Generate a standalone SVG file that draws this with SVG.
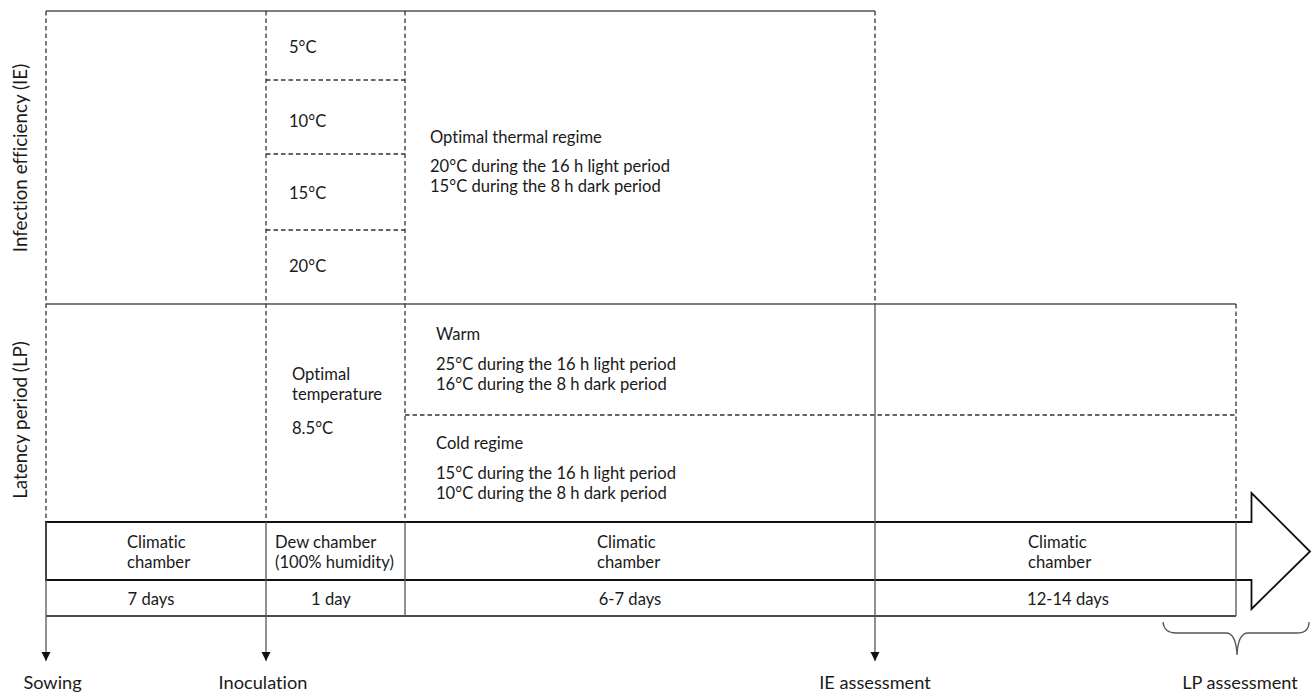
<svg xmlns="http://www.w3.org/2000/svg" width="1312" height="695" viewBox="0 0 1312 695">
<defs>
<style>
text{font-family:Lato,"Open Sans","Liberation Sans",sans-serif;font-size:16.6px;fill:#1a1a1a;font-variant-ligatures:none;font-feature-settings:"liga" 0}
.mid{text-anchor:middle}
.axis{font-size:18.8px}
.lbl{font-size:18.2px}
.solid{stroke:#555;stroke-width:1.3;fill:none}
.dash{stroke:#333;stroke-width:1.3;fill:none;stroke-dasharray:4.5 3}
.band{stroke:#111;stroke-width:1.8;fill:none}
.blk{stroke:#111;stroke-width:1.3;fill:none}
</style>
<marker id="ah" viewBox="0 0 10 10" refX="10" refY="5" markerWidth="9" markerHeight="10" markerUnits="userSpaceOnUse" orient="auto">
<path d="M0,0 L10,5 L0,10 Z" fill="#111"/>
</marker>
</defs>
<rect width="1312" height="695" fill="#fff"/>

<g id="ie-panel">
<line class="solid" x1="46" y1="11" x2="875" y2="11"/>
<line class="dash" x1="266" y1="80" x2="405" y2="80"/>
<line class="dash" x1="266" y1="154" x2="405" y2="154"/>
<line class="dash" x1="266" y1="230" x2="405" y2="230"/>
<text transform="translate(27,158) rotate(-90)" class="mid axis">Infection efficiency (IE)</text>
<text x="289" y="53">5°C</text>
<text x="289" y="127">10°C</text>
<text x="289" y="199">15°C</text>
<text x="289" y="272">20°C</text>
<text x="430" y="143">Optimal thermal regime</text>
<text x="430" y="172">20°C during the 16 h light period</text>
<text x="430" y="192">15°C during the 8 h dark period</text>
</g>

<g id="lp-panel">
<line class="solid" x1="46" y1="304" x2="1236" y2="304"/>
<line class="dash" x1="405" y1="415" x2="1236" y2="415"/>
<line class="dash" x1="1236" y1="304" x2="1236" y2="522"/>
<text transform="translate(27,420) rotate(-90)" class="mid axis">Latency period (LP)</text>
<text x="292" y="380">Optimal</text>
<text x="292" y="400">temperature</text>
<text x="292" y="434">8.5°C</text>
<text x="436" y="340">Warm</text>
<text x="436" y="370">25°C during the 16 h light period</text>
<text x="436" y="390">16°C during the 8 h dark period</text>
<text x="436" y="449">Cold regime</text>
<text x="436" y="479">15°C during the 16 h light period</text>
<text x="436" y="499">10°C during the 8 h dark period</text>
</g>

<g id="grid-dividers">
<line class="dash" x1="46" y1="11" x2="46" y2="522"/>
<line class="dash" x1="266" y1="11" x2="266" y2="522"/>
<line class="dash" x1="405" y1="11" x2="405" y2="522"/>
<line class="dash" x1="875" y1="11" x2="875" y2="304"/>
</g>

<g id="timeline">
<path class="band" d="M46,522 H1251.5 V493 L1310,551.5 L1251.5,609 V580 H46 Z"/>
<line class="blk" x1="46" y1="616" x2="1236" y2="616"/>
<line class="solid" x1="405" y1="522" x2="405" y2="616"/>
<line class="solid" x1="1236" y1="522" x2="1236" y2="616"/>
<text x="127" y="548">Climatic</text>
<text x="127" y="568">chamber</text>
<text x="275" y="548">Dew chamber</text>
<text x="275" y="568">(100% humidity)</text>
<text x="597" y="548">Climatic</text>
<text x="597" y="568">chamber</text>
<text x="1028" y="548">Climatic</text>
<text x="1028" y="568">chamber</text>
<text x="151" y="605" class="mid">7 days</text>
<text x="331" y="605" class="mid">1 day</text>
<text x="630" y="605" class="mid">6-7 days</text>
<text x="1068" y="605" class="mid">12-14 days</text>
</g>

<g id="connectors">
<line class="solid" x1="46" y1="522" x2="46" y2="661" marker-end="url(#ah)"/>
<line class="solid" x1="266" y1="522" x2="266" y2="661" marker-end="url(#ah)"/>
<line class="solid" x1="875" y1="304" x2="875" y2="661" marker-end="url(#ah)"/>
<path class="solid" d="M1163,622 Q1164,633 1176,633 H1226 Q1236,633 1237,655 Q1238,633 1248,633 H1297 Q1309,633 1309,622"/>
</g>

<g id="markers">
<text x="52.5" y="689" class="mid lbl">Sowing</text>
<text x="263" y="689" class="mid lbl">Inoculation</text>
<text x="875" y="689" class="mid lbl">IE assessment</text>
<text x="1240" y="689" class="mid lbl">LP assessment</text>
</g>
</svg>
